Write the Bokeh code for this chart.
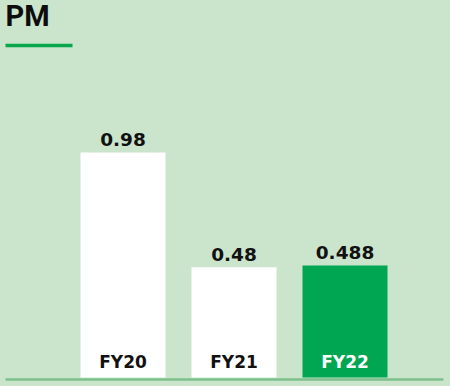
from bokeh.plotting import figure
from bokeh.models import ColumnDataSource, Range1d
from bokeh.embed import file_html
from bokeh.resources import INLINE
from bokeh.core.properties import value

# ---- data ----
title_text = "PM"
categories = ["FY20", "FY21", "FY22"]
values = [0.98, 0.48, 0.488]
value_labels = ["0.98", "0.48", "0.488"]
bar_colors = ["#ffffff", "#ffffff", "#00a651"]
cat_text_colors = ["#111111", "#111111", "#ffffff"]

BG = "#cae5cc"
W, H = 450, 386
PX_X = 111.0      # px per category step
PX_Y = 229.6      # px per unit value
X0_PX = 122.5     # px of first category centre
Y0_PX = 377.0     # px (from top) of value 0

def xd(px):  # px -> data x
    return (px - X0_PX) / PX_X

def yd(py):  # px from top -> data y
    return (Y0_PX - py) / PX_Y

p = figure(width=W, height=H, output_backend="svg", toolbar_location=None,
           x_range=Range1d(xd(0), xd(W)), y_range=Range1d(yd(H), yd(0)),
           min_border=0, background_fill_color=BG, border_fill_color=BG,
           outline_line_color=None)
p.axis.visible = False
p.grid.visible = False

idx = list(range(len(categories)))
lab_y = [v + 13 / PX_Y for v in values]          # label centre above bar top
cat_y = [15.5 / PX_Y] * len(idx)                 # label centre above base
src = ColumnDataSource(dict(x=idx, top=values, lab=value_labels, cat=categories,
                            color=bar_colors, tcolor=cat_text_colors,
                            laby=lab_y, caty=cat_y))

p.vbar(x="x", top="top", bottom=0, width=85 / PX_X, fill_color="color",
       line_color=None, source=src)

p.text(x="x", y="laby", text="lab", source=src, text_align="center",
       text_baseline="alphabetic", text_color="#111111",
       text_font=value("DejaVu Sans"), text_font_style="bold",
       text_font_size="18.5px")

p.text(x="x", y="caty", text="cat", source=src, text_align="center",
       text_baseline="alphabetic", text_color="tcolor",
       text_font=value("DejaVu Sans"), text_font_style="bold",
       text_font_size="17px")

# baseline
p.segment(x0=[xd(5)], y0=[yd(379)], x1=[xd(443)], y1=[yd(379)],
          line_color="#7dc08c", line_width=2.5)

# title + underline
p.text(x=[xd(5)], y=[yd(15.5)], text=[title_text], text_align="left",
       text_baseline="alphabetic", text_font=value("Roboto"),
       text_font_style="bold", text_font_size="29px", text_color="#0d0d0d")
p.segment(x0=[xd(5)], y0=[yd(45)], x1=[xd(72)], y1=[yd(45)],
          line_color="#0aa64c", line_width=3.5)

html = file_html(p, INLINE)
html = html.replace("</head>", "<style>body{background:%s}</style></head>" % BG, 1)
open("out.html", "w").write(html)
